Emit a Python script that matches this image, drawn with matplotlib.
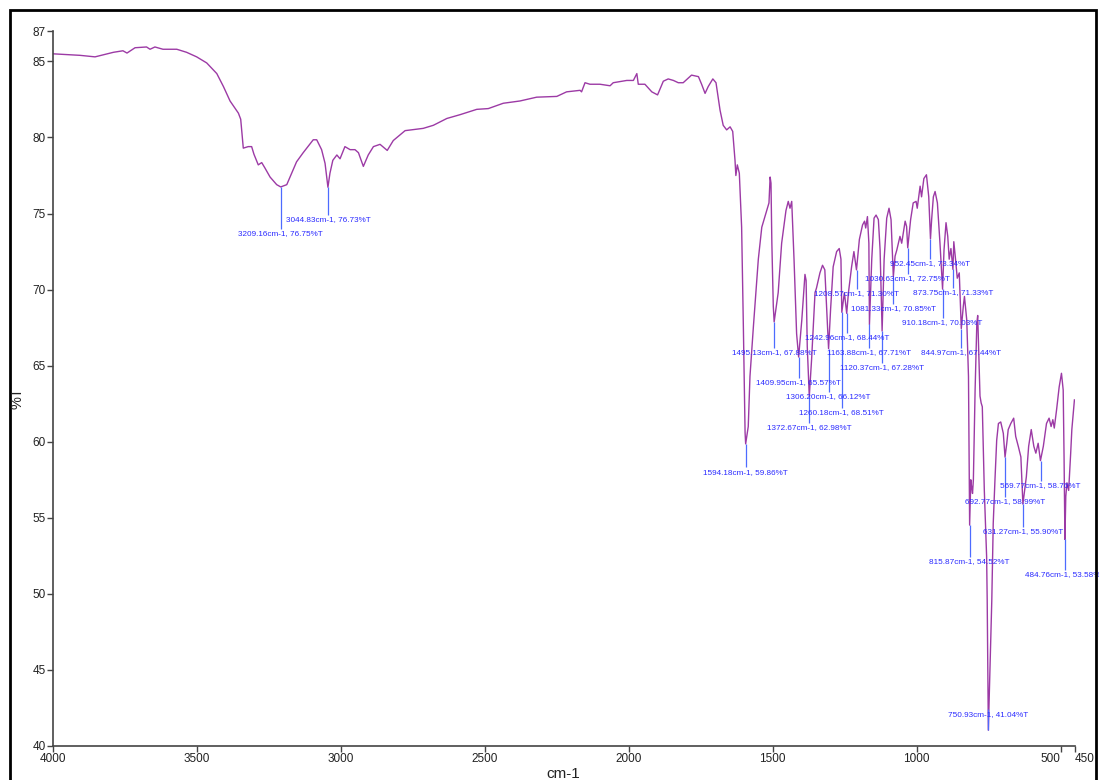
import numpy as np
import matplotlib.pyplot as plt
from matplotlib.patches import Rectangle
from matplotlib import font_manager

# IR spectrum, wavenumber (cm-1) vs %T
wavenumber = [4000, 3906, 3854, 3790, 3757, 3743, 3715, 3675, 3663, 3646, 3618, 3570, 3536, 3501,
              3466, 3431, 3408, 3385, 3356, 3348, 3339, 3322, 3310, 3302, 3287, 3275, 3264, 3246,
              3223, 3209, 3188, 3154, 3131, 3096, 3084, 3067, 3055, 3045, 3038, 3028, 3014, 3003,
              2986, 2968, 2951, 2939, 2922, 2905, 2887, 2864, 2839, 2818, 2777, 2714, 2679, 2632,
              2586, 2528, 2488, 2436, 2378, 2320, 2250, 2216, 2169, 2164, 2152, 2135, 2100, 2065,
              2054, 2007, 1984, 1972, 1967, 1944, 1920, 1900, 1880, 1863, 1845, 1828, 1811, 1782,
              1758, 1747, 1735, 1724, 1708, 1697, 1683, 1672, 1660, 1648, 1639, 1631, 1628, 1623,
              1616, 1608, 1602, 1596, 1594, 1585, 1579, 1567, 1550, 1538, 1521, 1513, 1509, 1506,
              1503, 1498, 1495, 1481, 1469, 1454, 1446, 1440, 1434, 1426, 1417, 1410, 1399, 1388,
              1384, 1380, 1373, 1365, 1353, 1348, 1336, 1327, 1319, 1306, 1299, 1290, 1278, 1269,
              1263, 1260, 1251, 1243, 1237, 1226, 1218, 1209, 1199, 1188, 1181, 1177, 1171, 1166,
              1164, 1156, 1148, 1141, 1133, 1127, 1120, 1113, 1104, 1096, 1089, 1081, 1075, 1069,
              1058, 1052, 1040, 1035, 1031, 1021, 1012, 1002, 998, 988, 983, 975, 966, 958,
              952, 948, 942, 936, 928, 919, 910, 905, 898, 892, 887, 881, 874, 871,
              865, 859, 852, 845, 838, 834, 826, 820, 816, 812, 809, 806, 803, 797,
              791, 788, 784, 780, 776, 772, 765, 757, 755, 751, 739, 734, 728, 722,
              716, 708, 699, 693, 687, 682, 673, 663, 656, 647, 638, 631, 619, 611,
              602, 593, 586, 578, 570, 560, 549, 540, 533, 527, 522, 514, 505, 497,
              491, 488, 485, 482, 478, 472, 465, 461, 452]
transmittance = [85.5, 85.4, 85.3, 85.6, 85.7, 85.55, 85.9, 85.95, 85.8, 85.95, 85.8, 85.8, 85.6, 85.3,
                 84.9, 84.2, 83.35, 82.4, 81.6, 81.2, 79.3, 79.4, 79.4, 78.9, 78.2, 78.35, 78.0, 77.4,
                 76.9, 76.75, 76.9, 78.4, 79.0, 79.85, 79.85, 79.2, 78.3, 76.73, 77.65, 78.5, 78.85, 78.6,
                 79.4, 79.2, 79.2, 79.0, 78.1, 78.85, 79.4, 79.55, 79.15, 79.8, 80.45, 80.6, 80.8, 81.25,
                 81.5, 81.85, 81.9, 82.25, 82.4, 82.65, 82.7, 83.0, 83.1, 83.0, 83.6, 83.5, 83.5, 83.4,
                 83.6, 83.75, 83.75, 84.2, 83.5, 83.5, 83.0, 82.8, 83.7, 83.85, 83.75, 83.6, 83.6, 84.1,
                 84.0, 83.5, 82.9, 83.35, 83.85, 83.6, 81.8, 80.8, 80.5, 80.7, 80.4, 78.5, 77.5, 78.2,
                 77.65, 74.1, 67.6, 60.6, 59.86, 61.0, 64.3, 67.6, 72.0, 74.1, 75.2, 75.7, 77.4, 77.0,
                 73.05, 68.9, 67.88, 69.8, 73.05, 75.2, 75.8, 75.35, 75.8, 72.0, 67.1, 65.57, 68.0, 71.0,
                 70.6, 66.25, 62.98, 65.4, 69.8, 70.1, 71.1, 71.6, 71.3, 66.12, 68.7, 71.5, 72.5, 72.7,
                 72.0, 68.51, 69.8, 68.44, 69.8, 71.5, 72.5, 71.3, 73.3, 74.25, 74.5, 74.05, 74.8, 73.05,
                 67.71, 72.0, 74.7, 74.9, 74.6, 72.6, 67.28, 72.0, 74.7, 75.35, 74.6, 70.85, 72.2, 72.6,
                 73.5, 73.05, 74.5, 74.15, 72.75, 74.6, 75.7, 75.8, 75.35, 76.8, 76.1, 77.3, 77.55, 76.1,
                 73.34, 74.6, 76.1, 76.45, 75.7, 73.05, 70.03, 72.6, 74.4, 73.5, 72.0, 72.7, 71.33, 73.15,
                 72.0, 70.75, 71.1, 67.44, 68.9, 69.55, 68.0, 64.3, 54.52, 57.5, 57.0, 56.6, 57.5, 63.4,
                 67.8, 68.3, 65.6, 63.0, 62.55, 62.3, 56.8, 52.45, 49.6, 41.04, 49.6, 54.65, 57.5, 60.1,
                 61.2, 61.3, 60.55, 58.99, 59.9, 60.8, 61.2, 61.55, 60.35, 59.7, 59.0, 55.9, 57.7, 59.7,
                 60.8, 59.7, 59.25, 59.9, 58.76, 59.7, 61.2, 61.55, 61.0, 61.45, 60.9, 62.1, 63.6, 64.5,
                 63.4, 59.0, 53.58, 56.4, 57.3, 56.8, 59.25, 60.8, 62.75]

# labelled peaks
peak_wn = [3209.16, 3044.83, 1594.18, 1495.13, 1409.95, 1372.67, 1306.20, 1260.18, 1242.96,
           1208.57, 1163.88, 1120.37, 1081.33, 1030.63, 952.45, 910.18, 873.75, 844.97,
           815.87, 750.93, 692.77, 631.27, 569.77, 484.76]
peak_t = [76.75, 76.73, 59.86, 67.88, 65.57, 62.98, 66.12, 68.51, 68.44,
          71.30, 67.71, 67.28, 70.85, 72.75, 73.34, 70.03, 71.33, 67.44,
          54.52, 41.04, 58.99, 55.90, 58.76, 53.58]
# height (in %T) where each label text sits
label_t = [73.66, 74.58, 58.0, 65.84, 63.87, 60.91, 62.95, 61.9, 66.83,
           69.72, 65.84, 64.85, 68.73, 70.7, 71.69, 67.81, 69.78, 65.84,
           52.1, 42.1, 56.04, 54.07, 57.1, 51.24]

xtick_vals = [4000, 3500, 3000, 2500, 2000, 1500, 1000, 500, 450]
ytick_vals = [40, 45, 50, 55, 60, 65, 70, 75, 80, 85, 87]

names = [f.name for f in font_manager.fontManager.ttflist]
narrow = 'Liberation Sans Narrow' if 'Liberation Sans Narrow' in names else 'Liberation Sans'
plt.rcParams['font.family'] = [narrow, 'DejaVu Sans']

fig = plt.figure(figsize=(10.99, 7.80), dpi=100)
ax = fig.add_axes([53 / 1099, 1 - 746 / 780, (1075 - 53) / 1099, (746 - 31) / 780])

ax.plot(wavenumber, transmittance, color='#9c3aa5', lw=1.0)

for w, t, lt in zip(peak_wn, peak_t, label_t):
    ax.vlines(w, min(t, lt + 0.35), max(t, lt + 0.35), color='#4d6bff', lw=0.9)
    ax.text(w, lt, f'{w:.2f}cm-1, {t:.2f}%T', color='#2a2aff', fontsize=5.9,
            ha='center', va='center')

ax.set_xlim(4000, 450)
ax.set_ylim(40, 87)
ax.set_xticks(xtick_vals)
ax.set_xticklabels([str(v) for v in xtick_vals])
ax.set_yticks(ytick_vals)
ax.spines['top'].set_visible(False)
ax.spines['right'].set_visible(False)
for s in ['left', 'bottom']:
    ax.spines[s].set_color('#444444')
    ax.spines[s].set_linewidth(1.2)
ax.tick_params(direction='out', length=4, width=1, color='#444444',
               labelsize=8.5, labelcolor='#222222', pad=1)
# keep "500" and "450" apart as in the original
xl = ax.get_xticklabels()
xl[-2].set_horizontalalignment('right')
xl[-1].set_horizontalalignment('left')

fig.text(17 / 1099, 1 - 398 / 780, '%T', rotation=90, ha='center', va='center',
         fontsize=10.5, color='#222222')
fig.text(563 / 1099, 1 - 767 / 780, 'cm-1', ha='center', va='top',
         fontsize=11, color='#222222')

fig.patches.append(Rectangle((10 / 1099, -0.02), 1086 / 1099, 1 - 10 / 780 + 0.02,
                             transform=fig.transFigure, fill=False,
                             edgecolor='black', lw=2))

fig.savefig('out.png', dpi=100)
